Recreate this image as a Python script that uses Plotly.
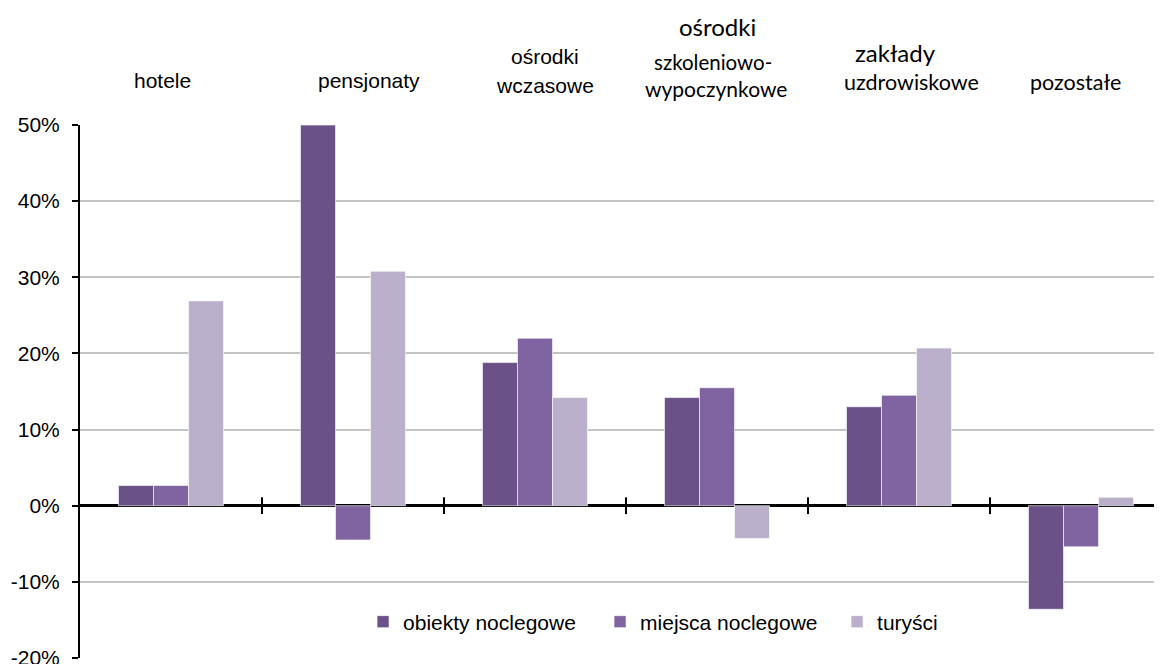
import plotly.graph_objects as go

# ---- data ----
categories = ["hotele", "pensjonaty", "ośrodki wczasowe", "ośrodki szkoleniowo-wypoczynkowe",
              "zakłady uzdrowiskowe", "pozostałe"]
obiekty = [2.65, 50.0, 18.8, 14.2, 13.0, -13.6]
miejsca = [2.65, -4.5, 22.0, 15.5, 14.5, -5.4]
turysci = [26.9, 30.8, 14.2, -4.3, 20.7, 1.1]
series_names = ["obiekty noclegowe", "miejsca noclegowe", "turyści"]
colors = ["#6A5187", "#8064A2", "#BAB0CB"]
y_ticks = [-20, -10, 0, 10, 20, 30, 40, 50]

ARIAL = "Liberation Sans, Arial"
CALIBRI = "Lato, Carlito, sans-serif"
# header label lines: (category index, x offset in category units, text, page y centre, font, size)
header_lines = [
    (0, -0.049, "hotele", 81, ARIAL, 21),
    (1, 0.088, "pensjonaty", 81, ARIAL, 21),
    (2, 0.053, "ośrodki", 57, ARIAL, 21),
    (2, 0.053, "wczasowe", 85, ARIAL, 21),
    (3, 0.005, "ośrodki", 27, CALIBRI, 24),
    (3, -0.022, "szkoleniowo-", 62, CALIBRI, 20.5),
    (3, -0.003, "wypoczynkowe", 88, CALIBRI, 21),
    (4, -0.02, "zakłady", 53, CALIBRI, 24),
    (4, 0.068, "uzdrowiskowe", 82, CALIBRI, 21.5),
    (5, -0.033, "pozostałe", 82, CALIBRI, 21.5),
]

# browser body margin of 8px shifts the figure; compensate
OFF = 8
W, H = 1162 - OFF, 664 - OFF
TOP_PAGE, BOT_PAGE, LEFT_PAGE = 125, 658, 80
plot_h = BOT_PAGE - TOP_PAGE

def py(p):
    return 1 - (p - TOP_PAGE) / plot_h

x_idx = list(range(len(categories)))

fig = go.Figure()
for name, vals, col in zip(series_names, [obiekty, miejsca, turysci], colors):
    fig.add_trace(go.Bar(
        x=x_idx, y=vals, name=name,
        marker=dict(color=col, line=dict(color="rgba(255,255,255,0.6)", width=1)),
    ))

# category separator ticks crossing the zero line
fig.add_trace(go.Scatter(
    x=[i + 0.5 for i in x_idx[:-1]], y=[0] * (len(categories) - 1),
    mode="markers", showlegend=False, hoverinfo="skip", cliponaxis=False,
    marker=dict(symbol="line-ns", size=12, line=dict(color="black", width=2)),
))

for idx, dx, txt, ypix, fam, size in header_lines:
    fig.add_annotation(
        x=idx + dx, y=py(ypix), xref="x", yref="paper", text=txt, showarrow=False,
        xanchor="center", yanchor="middle",
        font=dict(family=fam, size=size, color="black"),
    )

fig.update_layout(
    width=W, height=H,
    margin=dict(l=LEFT_PAGE - OFF, r=0, t=TOP_PAGE - OFF, b=H - (BOT_PAGE - OFF),
                autoexpand=False),
    plot_bgcolor="white", paper_bgcolor="white",
    barmode="group", bargap=0.423, bargroupgap=0,
    font=dict(family=ARIAL, size=21, color="black"),
    legend=dict(orientation="h", x=0.2616, xanchor="left", y=py(622), yanchor="middle",
                font=dict(size=21), bgcolor="rgba(0,0,0,0)", traceorder="normal",
                entrywidth=192, entrywidthmode="pixels"),
    xaxis=dict(range=[-0.5, 5.445], showticklabels=False, showgrid=False, zeroline=False,
               showline=False, ticks="", automargin=False),
    yaxis=dict(range=[-20, 50], tickvals=y_ticks, ticktext=[f"{v}%" for v in y_ticks],
               showgrid=True, gridcolor="#C4C4C4", gridwidth=1.5,
               zeroline=True, zerolinecolor="black", zerolinewidth=2.5,
               showline=True, linecolor="black", linewidth=2,
               ticks="outside", ticklen=6, tickwidth=2, tickcolor="black",
               ticklabelstandoff=8, ticklabeloverflow="allow", automargin=False,
               tickfont=dict(size=21)),
)

fig.write_html("out.html")
